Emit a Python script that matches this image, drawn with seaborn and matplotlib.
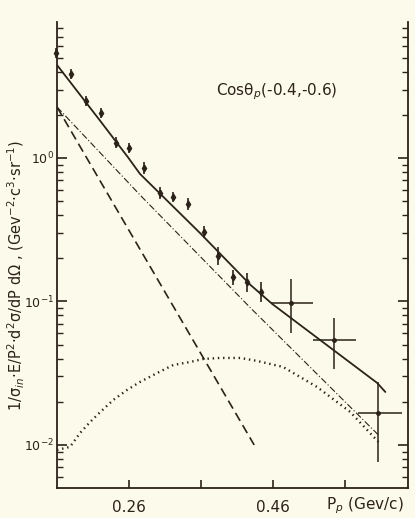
import matplotlib
matplotlib.use("Agg")
import matplotlib.pyplot as plt
import seaborn as sns
import numpy as np
import pandas as pd
from matplotlib.ticker import FixedLocator, LogLocator, NullFormatter

# ---------------- data ----------------
# measured points with small error bars
p_small = [0.160, 0.181, 0.201, 0.222, 0.243, 0.261, 0.282, 0.303, 0.322,
           0.343, 0.364, 0.384, 0.405, 0.424, 0.444]
y_small = [5.42, 3.85, 2.51, 2.07, 1.28, 1.17, 0.852, 0.570, 0.535,
           0.478, 0.305, 0.2075, 0.148, 0.137, 0.116]
y_small_lo = [5.00, 3.55, 2.32, 1.91, 1.18, 1.08, 0.774, 0.518, 0.494,
              0.434, 0.277, 0.180, 0.131, 0.117, 0.099]
y_small_hi = [5.87, 4.17, 2.72, 2.24, 1.39, 1.27, 0.938, 0.628, 0.580,
              0.526, 0.336, 0.240, 0.167, 0.159, 0.137]

# wide-bin points (with horizontal bin widths)
p_wide = [0.485, 0.545, 0.606]
p_wide_lo = [0.457, 0.516, 0.578]
p_wide_hi = [0.515, 0.575, 0.638]
y_wide = [0.0972, 0.0539, 0.0166]
y_wide_lo = [0.0603, 0.0339, 0.00765]
y_wide_hi = [0.1435, 0.0771, 0.0276]

# total fit (solid)
fit_p = [0.161, 0.221, 0.260, 0.276, 0.359, 0.429, 0.459, 0.6045, 0.6156]
fit_y = [4.45, 1.81, 1.00, 0.774, 0.300, 0.1303, 0.0961, 0.0270, 0.0234]

# steep component (dashed)
steep_p = [0.161, 0.434]
steep_y = [2.267, 0.0100]

# slow component (dash-dot)
slow_p = [0.161, 0.276, 0.429, 0.606]
slow_y = [2.267, 0.552, 0.0901, 0.01174]

# third component (dotted)
dot_p = [0.161, 0.179, 0.193, 0.207, 0.221, 0.239, 0.258, 0.276, 0.300,
         0.322, 0.3455, 0.3635, 0.387, 0.415, 0.438, 0.474, 0.521, 0.567, 0.606]
dot_y = [0.00923, 0.00969, 0.01213, 0.01447, 0.01698, 0.02060, 0.02418,
         0.02748, 0.03177, 0.03609, 0.03787, 0.03973, 0.04039, 0.04039,
         0.03849, 0.03497, 0.02537, 0.01698, 0.01050]

x_ticks = [0.26, 0.36, 0.46, 0.56]
x_ticklabels = ["0.26", "", "0.46", ""]
y_ticks = [0.01, 0.1, 1.0]
y_ticklabels = ["$10^{-2}$", "$10^{-1}$", "$10^{0}$"]

# ---------------- style ----------------
sns.set_style("ticks")
plt.rcParams['font.family'] = ['DejaVu Sans']
BG = "#fcfaea"
INK = "#2b2219"

fig = plt.figure(figsize=(4.15, 5.18), dpi=100, facecolor=BG)
ax = fig.add_axes([57/415, 1-488/518, (408-57)/415, (488-22)/518])
ax.set_facecolor(BG)
ax.set_yscale("log")
ax.set_xlim(0.161, 0.647)
ax.set_ylim(0.00501, 8.87)

df_fit = pd.DataFrame({"p": fit_p, "y": fit_y})
df_steep = pd.DataFrame({"p": steep_p, "y": steep_y})
df_slow = pd.DataFrame({"p": slow_p, "y": slow_y})
df_dot = pd.DataFrame({"p": dot_p, "y": dot_y})

sns.lineplot(data=df_fit, x="p", y="y", ax=ax, color=INK, lw=1.3, sort=False)
sns.lineplot(data=df_steep, x="p", y="y", ax=ax, color=INK, lw=1.2, sort=False)
ax.lines[-1].set_linestyle((0, (5.5, 3)))
sns.lineplot(data=df_slow, x="p", y="y", ax=ax, color=INK, lw=0.8, sort=False)
ax.lines[-1].set_linestyle((0, (6, 2, 1, 2)))
sns.lineplot(data=df_dot, x="p", y="y", ax=ax, color=INK, lw=1.7, sort=False)
ax.lines[-1].set_linestyle((0, (0.6, 1.6)))

ys = np.array(y_small)
ax.errorbar(p_small, ys,
            yerr=[ys - np.array(y_small_lo), np.array(y_small_hi) - ys],
            fmt="d", ms=3.5, color=INK, elinewidth=1.2, capsize=0, clip_on=False)
yw = np.array(y_wide)
pw = np.array(p_wide)
ax.errorbar(pw, yw,
            xerr=[pw - np.array(p_wide_lo), np.array(p_wide_hi) - pw],
            yerr=[yw - np.array(y_wide_lo), np.array(y_wide_hi) - yw],
            fmt="o", ms=2.5, color=INK, elinewidth=1.1, capsize=0)

# axes styling
for s in ["left", "bottom", "right"]:
    ax.spines[s].set_color(INK)
    ax.spines[s].set_linewidth(1.3)
ax.spines["top"].set_visible(False)

ax.xaxis.set_major_locator(FixedLocator(x_ticks))
ax.set_xticklabels(x_ticklabels)
ax.yaxis.set_major_locator(FixedLocator(y_ticks))
ax.set_yticklabels(y_ticklabels)
ax.yaxis.set_minor_locator(LogLocator(base=10, subs=np.arange(2, 10)))
ax.yaxis.set_minor_formatter(NullFormatter())
ax.tick_params(axis="both", which="both", direction="in", color=INK, labelcolor=INK)
ax.tick_params(axis="x", which="major", length=6, width=1.2, pad=9, labelsize=11)
ax.tick_params(axis="y", which="major", length=7, width=1.2, pad=2, labelsize=9,
               right=True)
ax.tick_params(axis="y", which="minor", length=4, width=1.0, right=True)
ax.set_xlabel("")
ax.set_ylabel("")

fig.text(365/415, 1-506/518, "P$_p$ (Gev/c)", ha="center", va="center",
         fontsize=11, color=INK)
fig.text(277/415, 1-92/518, "Cosθ$_p$(-0.4,-0.6)", ha="center", va="center",
         fontsize=11, color=INK)
fig.text(16/415, 1-275/518,
         "1/σ$_{in}$·E/P$^2$·d$^2$σ/dP dΩ , (Gev$^{-2}$·c$^3$·sr$^{-1}$)",
         ha="center", va="center", rotation=90, fontsize=10.5, color=INK)

fig.savefig("out.png", dpi=100, facecolor=BG)
